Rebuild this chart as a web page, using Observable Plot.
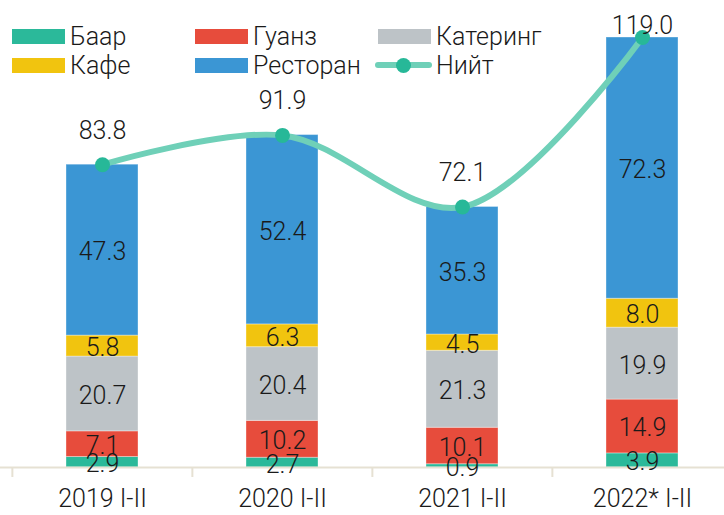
<!DOCTYPE html>
<html>
<head>
<meta charset="utf-8">
<script src="https://cdn.jsdelivr.net/npm/d3@7"></script>
<script src="https://cdn.jsdelivr.net/npm/@observablehq/plot@0.6"></script>
<style>
  html, body { margin: 0; padding: 0; background: #fff; overflow: hidden; }
  #wrap { position: relative; width: 724px; height: 515px; font-family: Roboto, "Noto Sans", sans-serif; font-weight: 300; }
  #legend { position: absolute; left: 0; top: 0; width: 724px; height: 80px; }
  .li { position: absolute; display: flex; align-items: center; font-size: 25px; color: #1a1a1a; line-height: 1; }
  .sw { width: 53px; height: 15px; margin-right: 5px; }
  .lsw { position: relative; width: 57px; height: 15px; margin-right: 4px; }
  .lsw .ln { position: absolute; left: 0; right: 0; top: 4.5px; height: 6px; background: #6fd0b8; border-radius: 3px; }
  .lsw .dt { position: absolute; left: 21px; top: 0px; width: 15px; height: 15px; border-radius: 50%; background: #27b898; }
</style>
</head>
<body>
<div id="wrap"><div id="legend"></div></div>
<script>
const categories = ["2019 I-II", "2020 I-II", "2021 I-II", "2022* I-II"];
const seriesNames = ["Баар", "Гуанз", "Катеринг", "Кафе", "Ресторан"];
const baar     = [2.9, 2.7, 0.9, 3.9];
const guanz    = [7.1, 10.2, 10.1, 14.9];
const catering = [20.7, 20.4, 21.3, 19.9];
const kafe     = [5.8, 6.3, 4.5, 8.0];
const restoran = [47.3, 52.4, 35.3, 72.3];
const total    = [83.8, 91.9, 72.1, 119.0];
const totalName = "Нийт";
const colors = ["#2bb99a", "#e74c3c", "#bdc3c7", "#f1c40f", "#3b96d4"];

const seriesValues = [baar, guanz, catering, kafe, restoran];
const rows = [];
seriesNames.forEach((s, i) => categories.forEach((c, j) => rows.push({cat: c, series: s, value: seriesValues[i][j]})));
const totals = categories.map((c, j) => ({cat: c, value: total[j]}));

const W = 724, H = 515;
const xRange = [11, 732];
const step = (xRange[1] - xRange[0]) / categories.length;

const chart = Plot.plot({
  width: W, height: H,
  marginTop: 37, marginBottom: 48, marginLeft: 0, marginRight: 0,
  style: {fontFamily: "Roboto, 'Noto Sans', sans-serif", fontWeight: 300, background: "transparent", overflow: "visible"},
  x: {domain: categories, range: xRange, paddingInner: 0.6, paddingOuter: 0.3, label: null},
  y: {domain: [0, 119], axis: null},
  color: {domain: seriesNames, range: colors},
  marks: [
    Plot.barY(rows, Plot.stackY({x: "cat", y: "value", fill: "series", stroke: "#ffffff", strokeOpacity: 0.35, strokeWidth: 1})),
    Plot.ruleY([0], {stroke: "#e6e1d3", strokeWidth: 2}),
    Plot.ruleX(categories, {x: d => d, y1: 0, y2: 0, dx: -step / 2, insetBottom: -10, stroke: "#e6e1d3", strokeWidth: 2}),
    Plot.text(rows, Plot.stackY({x: "cat", y: "value", text: d => d.value.toFixed(1), fill: "#1a1a1a", fontSize: 25, fontWeight: 300, dy: 2})),
    Plot.line(totals, {x: "cat", y: "value", curve: "catmull-rom", stroke: "#6fd0b8", strokeWidth: 6}),
    Plot.dot(totals, {x: "cat", y: "value", r: 7.5, fill: "#27b898"}),
    Plot.text(totals.slice(0, 3), {x: "cat", y: "value", text: d => d.value.toFixed(1), dy: -34, fill: "#1a1a1a", fontSize: 25, fontWeight: 300}),
    Plot.text(totals.slice(3), {x: "cat", y: "value", text: d => d.value.toFixed(1), dy: -12, fill: "#1a1a1a", fontSize: 25, fontWeight: 300}),
    Plot.axisX({tickSize: 0, tickPadding: 22, fontSize: 25, fill: "#1a1a1a", fontWeight: 300})
  ]
});
document.getElementById("wrap").prepend(chart);
chart.style.position = "absolute";
chart.style.left = "0";
chart.style.top = "0";

const legend = document.getElementById("legend");
const items = [
  {name: seriesNames[0], color: colors[0], x: 12, y: 28},
  {name: seriesNames[1], color: colors[1], x: 195, y: 28},
  {name: seriesNames[2], color: colors[2], x: 378, y: 28},
  {name: seriesNames[3], color: colors[3], x: 12, y: 57},
  {name: seriesNames[4], color: colors[4], x: 195, y: 57},
  {name: totalName, line: true, x: 375, y: 57}
];
items.forEach(it => {
  const d = document.createElement("div");
  d.className = "li";
  d.style.left = it.x + "px";
  d.style.top = (it.y - 4) + "px";
  d.style.height = "24px";
  if (it.line) {
    d.innerHTML = '<div class="lsw"><div class="ln"></div><div class="dt"></div></div>';
  } else {
    d.innerHTML = '<div class="sw" style="background:' + it.color + '"></div>';
  }
  const t = document.createElement("span");
  t.textContent = it.name;
  d.appendChild(t);
  legend.appendChild(d);
});
</script>
</body>
</html>
